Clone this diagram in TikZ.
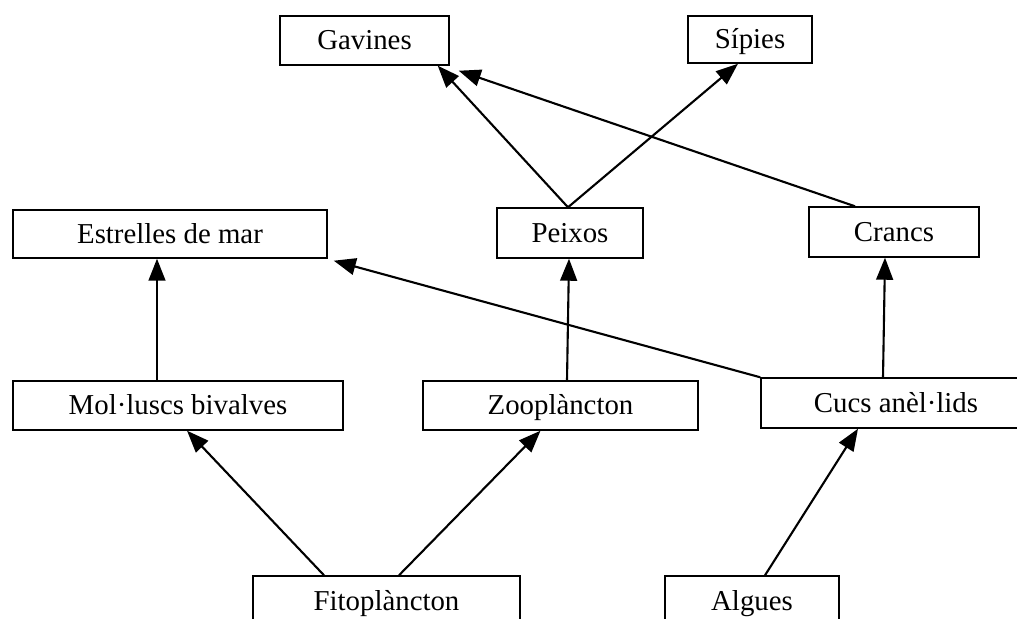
\documentclass[tikz,border=0pt]{standalone}
\usepackage{fontspec}
\setmainfont{Liberation Serif}
\usetikzlibrary{arrows.meta, calc}

\begin{document}
\begin{tikzpicture}[x=0.025cm, y=-0.025cm,
    box/.style={draw, line width=1pt, rectangle, inner sep=0pt, text height=17.5pt, text depth=4pt, font=\fontsize{20.5}{24}\selectfont},
    arr/.style={-{Triangle[length=0.55cm, width=0.42cm]}, line width=1.5pt}]
    \useasboundingbox (0, 0) rectangle (1017, 618);
    \clip (0, 0) rectangle (1017, 618);

    \node[box, minimum width=4.225cm, minimum height=1.225cm] (n0) at (364.5, 40.5) {Gavines};
    \node[box, minimum width=3.1cm, minimum height=1.175cm] (n1) at (750, 39.5) {Sípies};
    \node[box, minimum width=7.85cm, minimum height=1.2cm] (n2) at (170, 234) {Estrelles de mar};
    \node[box, minimum width=3.65cm, minimum height=1.25cm] (n3) at (570, 233) {Peixos};
    \node[box, minimum width=4.25cm, minimum height=1.25cm] (n4) at (894, 232) {Crancs};
    \node[box, minimum width=8.25cm, minimum height=1.225cm] (n5) at (178, 405.5) {Mol·luscs bivalves};
    \node[box, minimum width=6.875cm, minimum height=1.225cm] (n6) at (560.5, 405.5) {Zooplàncton};
    \node[box, minimum width=6.75cm, minimum height=1.25cm] (n7) at (896, 403) {Cucs anèl·lids};
    \node[box, minimum width=6.675cm, minimum height=1.25cm] (n8) at (386.5, 601) {Fitoplàncton};
    \node[box, minimum width=4.35cm, minimum height=1.25cm] (n9) at (752, 601) {Algues};

    \draw[arr] ($(n8.north)+(-62.5, 0)$) -- ($(n5.south)+(9, 0)$);
    \draw[arr] ($(n8.north)+(12.5, 0)$) -- ($(n6.south)+(-20, 0)$);
    \draw[arr] ($(n9.north)+(13, 0)$) -- ($(n7.south)+(-38, 0)$);
    \draw[arr] ($(n5.north)+(-21, 0)$) -- ($(n2.south)+(-13, 0)$);
    \draw[arr] ($(n6.north)+(6.5, 0)$) -- ($(n3.south)+(-1, 0)$);
    \draw[arr] ($(n7.north)+(-13, 0)$) -- ($(n4.south)+(-9, 0)$);
    \draw[arr] (n7.north west) -- ($(n2.south east)+(6, 2)$);
    \draw[arr] ($(n3.north)+(-2, 0)$) -- ($(n0.south east)+(-12, 0)$);
    \draw[arr] ($(n3.north)+(-2, 0)$) -- ($(n1.south)+(-12, 0)$);
    \draw[arr] ($(n4.north)+(-39, 0)$) -- ($(n0.south east)+(9, 5)$);
\end{tikzpicture}
\end{document}
